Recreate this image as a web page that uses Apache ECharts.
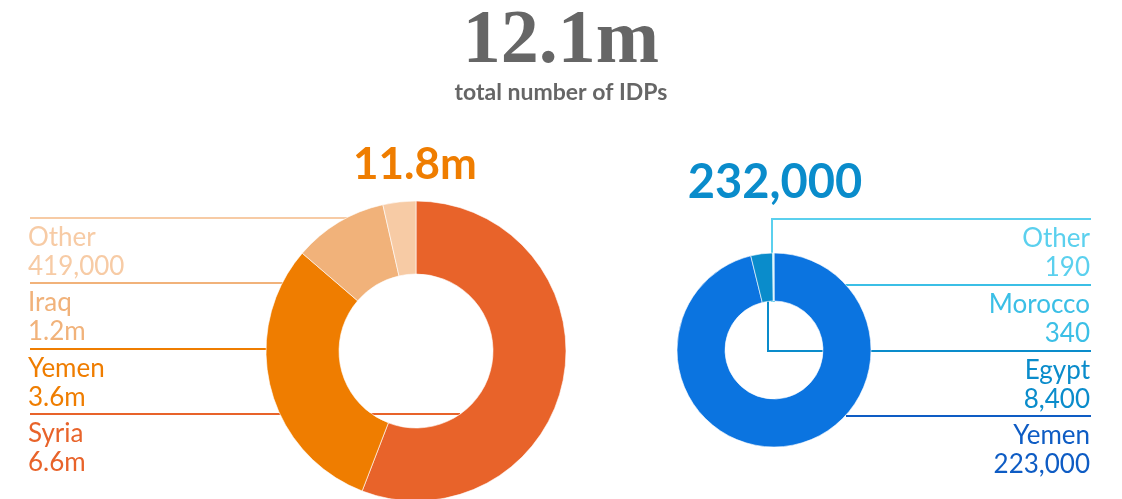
<!DOCTYPE html>
<html>
<head>
<meta charset="utf-8">
<script src="https://cdn.jsdelivr.net/npm/echarts@6/dist/echarts.min.js"></script>
<style>
  html, body { margin: 0; padding: 0; background: #fff; }
  #chart { width: 1122px; height: 499px; }
</style>
</head>
<body>
<div id="chart"></div>
<script>
// Internally displaced people: two rings, each broken down by country
const leftCountries = ['Syria', 'Yemen', 'Iraq', 'Other'];
const leftIDPs = [6600000, 3600000, 1200000, 419000];
const rightCountries = ['Yemen', 'Egypt', 'Morocco', 'Other'];
const rightIDPs = [223000, 8400, 340, 190];
const totalCaption = 'total number of IDPs';

// Styling
const leftColors = ['#E8632A', '#EF7D00', '#F1B27A', '#F7CBA5'];
const rightColors = ['#0B74E0', '#0A8CCB', '#3BBFE6', '#5BD0EE'];
const rightTextColors = ['#0E5CC4', '#0A8CCB', '#3BBFE6', '#5BD0EE'];
const labelFont = 'Lato';

// Leader-line layout (pixels), indexed like the data arrays
const leftLineY = [414, 349, 283, 218];
const leftLineEndX = [460, 283, 335, 385];
const rightLineY = [416, 351, 285, 219];
const rightLineStart = [[846, 416], [768, 256], [774, 302], [772, 302]];

const sum = a => a.reduce((s, v) => s + v, 0);
function fmtValue(v) {
  return v >= 1e6 ? (v / 1e6).toFixed(1) + 'm' : Math.round(v).toLocaleString('en-US');
}
function fmtTotal(v) {
  return v >= 1e6 ? (v / 1e6).toFixed(1) + 'm' : (Math.round(v / 1000) * 1000).toLocaleString('en-US');
}

function buildData(names, values, colors, textColors) {
  return names.map((n, i) => ({
    name: n,
    value: values[i],
    itemStyle: { color: colors[i] },
    label: { color: textColors[i] },
    labelLine: { lineStyle: { color: textColors[i] } }
  }));
}

const leftTotal = sum(leftIDPs);
const rightTotal = sum(rightIDPs);
const grandTotal = leftTotal + rightTotal;

const commonSeries = {
  type: 'pie',
  startAngle: 90,
  clockwise: true,
  avoidLabelOverlap: false,
  emphasis: { disabled: true },
  itemStyle: { borderColor: 'rgba(255,255,255,0.6)', borderWidth: 1 },
  label: {
    show: true,
    position: 'outside',
    fontFamily: labelFont,
    fontSize: 26,
    lineHeight: 29,
    formatter: p => p.name + '\n' + fmtValue(p.value)
  },
  labelLine: { show: true, smooth: false, lineStyle: { width: 2 } }
};

const chart = echarts.init(document.getElementById('chart'), null, { renderer: 'canvas' });
chart.setOption({
  animation: false,
  backgroundColor: '#fff',
  title: [
    {
      text: fmtTotal(grandTotal), left: 561, top: 4, textAlign: 'center', padding: 0,
      textStyle: { fontFamily: 'Liberation Serif', fontWeight: 'bold', fontSize: 76, color: '#666666' }
    },
    {
      text: totalCaption, left: 561, top: 81, textAlign: 'center', padding: 0,
      textStyle: { fontFamily: labelFont, fontWeight: 'bold', fontSize: 23, color: '#666666' }
    },
    {
      text: fmtTotal(leftTotal), left: 415, top: 143, textAlign: 'center', padding: 0,
      textStyle: { fontFamily: labelFont, fontWeight: 'bold', fontSize: 44, color: '#EF7D00' }
    },
    {
      text: fmtTotal(rightTotal), left: 775, top: 159, textAlign: 'center', padding: 0,
      textStyle: { fontFamily: labelFont, fontWeight: 'bold', fontSize: 47, color: '#0A8CCB' }
    }
  ],
  series: [
    Object.assign({}, commonSeries, {
      name: 'left',
      center: [416, 351],
      radius: [77, 150],
      data: buildData(leftCountries, leftIDPs, leftColors, leftColors),
      labelLayout: function (p) {
        const i = p.dataIndex;
        const y = leftLineY[i];
        return {
          x: 28, y: y + 34, align: 'left', verticalAlign: 'middle',
          labelLinePoints: [[leftLineEndX[i], y], [leftLineEndX[i], y], [30, y]]
        };
      }
    }),
    Object.assign({}, commonSeries, {
      name: 'right',
      center: [774, 350],
      radius: [49, 97],
      data: buildData(rightCountries, rightIDPs, rightColors, rightTextColors),
      labelLayout: function (p) {
        const i = p.dataIndex;
        const y = rightLineY[i];
        const s = rightLineStart[i];
        return {
          x: 1090, y: y + 34, align: 'right', verticalAlign: 'middle',
          labelLinePoints: [[s[0], s[1]], [s[0], y], [1091, y]]
        };
      }
    })
  ]
});
</script>
</body>
</html>
